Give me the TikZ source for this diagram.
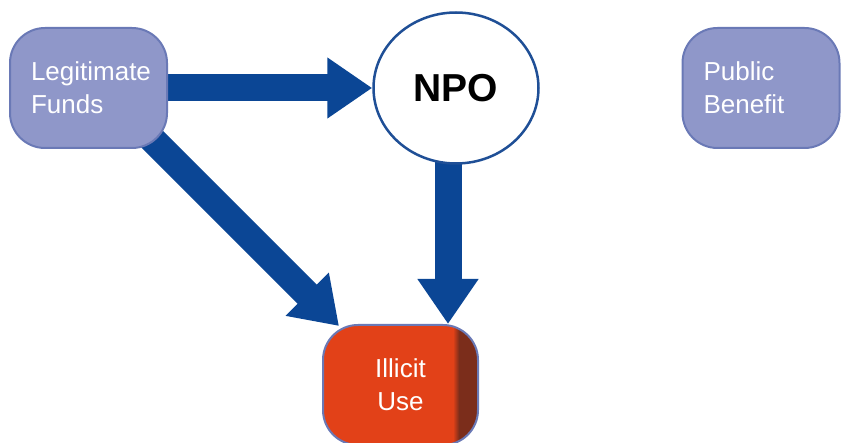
\documentclass[tikz,border=0pt]{standalone}
\usepackage{fontspec}
\setmainfont{Liberation Sans}
\usetikzlibrary{arrows.meta,shapes.geometric,backgrounds}

\definecolor{fundfill}{HTML}{8F97C9}
\definecolor{fundedge}{HTML}{6A79B6}
\definecolor{arrowblue}{HTML}{0B4695}
\definecolor{npoedge}{HTML}{1F4F96}
\definecolor{illicitred}{HTML}{E24118}
\definecolor{illicitdark}{HTML}{7B2D1B}

\tikzset{
  fundbox/.style={draw=fundedge,line width=2pt,fill=fundfill,rounded corners=35pt,
    minimum height=120pt,text width=115pt,inner xsep=21pt,align=left,
    text=white,font=\fontsize{26}{33}\selectfont},
  usebox/.style={draw=fundedge,line width=2pt,fill=illicitred,rounded corners=35pt,
    minimum width=155pt,minimum height=120pt,align=center,
    text=white,font=\fontsize{26}{33}\selectfont,
    path picture={
      \fill[sharp corners,illicitdark] ([xshift=-19pt]path picture bounding box.north east)
        rectangle (path picture bounding box.south east);
      \shade[sharp corners,left color=illicitred,right color=illicitdark]
        ([xshift=-25pt]path picture bounding box.north east)
        rectangle ([xshift=-19pt]path picture bounding box.south east);}},
  npobox/.style={ellipse,draw=npoedge,line width=2.5pt,fill=white,
    minimum width=165pt,minimum height=151pt,font=\fontsize{39}{39}\bfseries},
  bigarrow/.style={draw=arrowblue,line width=27pt,-{Triangle[length=45pt,width=58pt]}}
}

\begin{document}
\begin{tikzpicture}[x=1pt,y=-1pt]
      \useasboundingbox (0,0) rectangle (841,443);
      \node[fundbox] (legit) at (88.5,88) {Legitimate\\Funds};
      \node[npobox] (npo) at (456,88) {NPO};
      \node[fundbox] (public) at (761,88) {Public\\Benefit};
      \node[usebox] (illicit) at (400.5,385) {Illicit\\Use};
      \begin{scope}[on background layer]
        \draw[bigarrow] (legit.center) -- (npo.west);
        \draw[bigarrow] ([xshift=-8pt]npo.center) -- ([xshift=-8pt]npo.center |- illicit.north);
        \draw[bigarrow] ([shift={(-27,-21)}]legit.south east) -- ([shift={(17,2)}]illicit.north west);
      \end{scope}
    \end{tikzpicture}
\end{document}
